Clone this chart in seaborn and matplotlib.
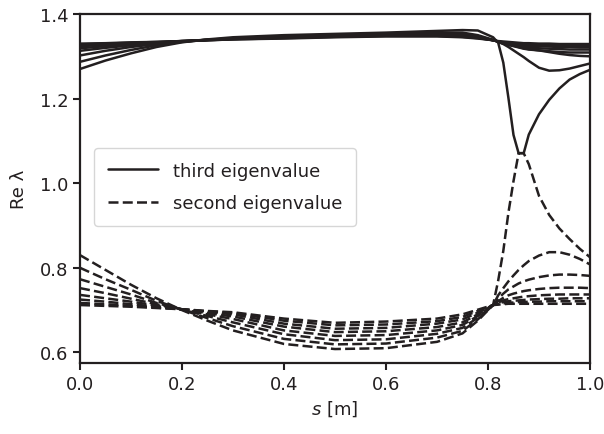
import numpy as np
import pandas as pd
import matplotlib
matplotlib.use("Agg")
import matplotlib.pyplot as plt
import seaborn as sns
from matplotlib.lines import Line2D

# ---- data ----
s = [0, .05, .1, .15, .2, .25, .3, .4, .5, .6, .7, .75, .78, .81,
     .82, .83, .84, .85, .86, .87, .88, .9, .92, .94, .96, .98, 1.0]

third_0 = [1.330, 1.331, 1.333, 1.334, 1.336, 1.338, 1.340, 1.342, 1.345, 1.347, 1.347, 1.345, 1.342, 1.338,
           1.336, 1.335, 1.334, 1.333, 1.332, 1.331, 1.331, 1.330, 1.330, 1.329, 1.329, 1.329, 1.329]
third_1 = [1.328, 1.330, 1.332, 1.334, 1.336, 1.338, 1.340, 1.343, 1.346, 1.348, 1.348, 1.346, 1.343, 1.338,
           1.335, 1.333, 1.332, 1.331, 1.330, 1.329, 1.328, 1.327, 1.326, 1.326, 1.325, 1.325, 1.325]
third_2 = [1.324, 1.327, 1.330, 1.333, 1.336, 1.338, 1.341, 1.344, 1.347, 1.349, 1.349, 1.348, 1.344, 1.338,
           1.335, 1.332, 1.330, 1.329, 1.327, 1.326, 1.325, 1.324, 1.323, 1.322, 1.322, 1.321, 1.321]
third_3 = [1.319, 1.324, 1.329, 1.332, 1.336, 1.339, 1.341, 1.345, 1.348, 1.350, 1.351, 1.349, 1.345, 1.338,
           1.335, 1.331, 1.329, 1.327, 1.325, 1.323, 1.321, 1.319, 1.318, 1.317, 1.316, 1.316, 1.316]
third_4 = [1.313, 1.320, 1.326, 1.331, 1.335, 1.339, 1.342, 1.346, 1.349, 1.351, 1.352, 1.351, 1.346, 1.338,
           1.335, 1.330, 1.327, 1.325, 1.322, 1.319, 1.317, 1.314, 1.312, 1.310, 1.309, 1.309, 1.309]
third_5 = [1.302, 1.313, 1.322, 1.329, 1.335, 1.339, 1.342, 1.347, 1.350, 1.352, 1.354, 1.353, 1.348, 1.338,
           1.335, 1.330, 1.327, 1.324, 1.321, 1.318, 1.316, 1.314, 1.310, 1.306, 1.303, 1.301, 1.300]
third_6 = [1.287, 1.302, 1.315, 1.326, 1.334, 1.339, 1.343, 1.348, 1.351, 1.353, 1.356, 1.356, 1.350, 1.339,
           1.334, 1.329, 1.322, 1.314, 1.306, 1.298, 1.289, 1.273, 1.266, 1.267, 1.271, 1.277, 1.283]
third_7 = [1.270, 1.290, 1.307, 1.322, 1.333, 1.340, 1.345, 1.350, 1.353, 1.356, 1.360, 1.362, 1.361, 1.345,
           1.332, 1.285, 1.202, 1.114, 1.071, 1.071, 1.115, 1.163, 1.197, 1.224, 1.245, 1.258, 1.268]

second_0 = [.712, .710, .708, .705, .702, .698, .695, .680, .670, .673, .680, .690, .701, .712,
            .713, .714, .715, .715, .715, .715, .715, .715, .715, .715, .715, .715, .715]
second_1 = [.717, .714, .710, .706, .702, .697, .693, .675, .664, .666, .674, .684, .698, .712,
            .714, .716, .717, .718, .719, .719, .720, .720, .721, .721, .721, .721, .721]
second_2 = [.725, .720, .714, .708, .702, .696, .690, .668, .656, .658, .668, .678, .694, .712,
            .716, .719, .721, .722, .723, .724, .725, .726, .727, .727, .728, .728, .728]
second_3 = [.736, .728, .720, .711, .702, .693, .685, .661, .648, .650, .660, .671, .690, .712,
            .718, .723, .726, .728, .730, .732, .733, .735, .736, .737, .737, .737, .737]
second_4 = [.752, .740, .727, .714, .702, .690, .679, .652, .639, .641, .652, .665, .686, .712,
            .721, .729, .735, .739, .742, .745, .747, .750, .752, .753, .753, .753, .752]
second_5 = [.773, .755, .737, .717, .701, .686, .671, .643, .629, .631, .644, .658, .682, .712,
            .727, .739, .749, .756, .763, .768, .772, .778, .782, .784, .784, .783, .781]
second_6 = [.800, .773, .748, .722, .701, .681, .662, .632, .619, .621, .635, .651, .678, .712,
            .735, .752, .768, .782, .795, .806, .816, .829, .837, .837, .831, .821, .808]
second_7 = [.830, .795, .760, .728, .700, .675, .652, .620, .608, .610, .625, .645, .675, .712,
            .770, .840, .930, 1.005, 1.071, 1.071, 1.045, .970, .925, .893, .868, .845, .825]

third = [third_0, third_1, third_2, third_3, third_4, third_5, third_6, third_7]
second = [second_0, second_1, second_2, second_3, second_4, second_5, second_6, second_7]

xticks = [0.0, 0.2, 0.4, 0.6, 0.8, 1.0]
yticks = [0.6, 0.8, 1.0, 1.2, 1.4]
legend_labels = ["third eigenvalue", "second eigenvalue"]

# ---- style ----
sns.set_theme(style="ticks")
plt.rcParams["font.family"] = ["DejaVu Sans"]
plt.rcParams["mathtext.fontset"] = "dejavusans"
ink = "#231f20"
dash = (0, (4.0, 1.7))

fig = plt.figure(figsize=(6.04, 4.35), dpi=100)
ax = fig.add_axes([80 / 604, 1 - 364 / 435, 510 / 604, 349 / 435])

rows = []
for k, vals in enumerate(third):
    for x, y in zip(s, vals):
        rows.append({"s": x, "val": y, "curve": f"t{k}", "kind": "third"})
for k, vals in enumerate(second):
    for x, y in zip(s, vals):
        rows.append({"s": x, "val": y, "curve": f"s{k}", "kind": "second"})
df = pd.DataFrame(rows)

for k in range(len(third)):
    sub = df[df["curve"] == f"t{k}"]
    sns.lineplot(data=sub, x="s", y="val", ax=ax, color=ink, lw=1.8,
                 linestyle="-", estimator=None, sort=False, legend=False)
for k in range(len(second)):
    sub = df[df["curve"] == f"s{k}"]
    sns.lineplot(data=sub, x="s", y="val", ax=ax, color=ink, lw=1.8,
                 linestyle=dash, estimator=None, sort=False, legend=False)

ax.set_xlim(0, 1)
ax.set_ylim(0.575, 1.4)
ax.set_xticks(xticks)
ax.set_xticklabels([f"{t:.1f}" for t in xticks])
ax.set_yticks(yticks)
ax.set_yticklabels([f"{t:.1f}" for t in yticks])
ax.set_xlabel(r"$s$ [m]", fontsize=13, color=ink)
ax.set_ylabel("Re λ", fontsize=13, color=ink, labelpad=8)
ax.tick_params(axis="both", labelsize=13, colors=ink, length=5, width=1.5,
               direction="out")
for sp in ax.spines.values():
    sp.set_linewidth(1.6)
    sp.set_color(ink)

handles = [Line2D([0], [0], color=ink, lw=1.8, linestyle="-"),
           Line2D([0], [0], color=ink, lw=1.8, linestyle=dash)]
leg = ax.legend(handles, legend_labels, loc="center left",
                bbox_to_anchor=(0.028, 0.505), borderaxespad=0, fontsize=13,
                frameon=True, fancybox=True, handlelength=2.8,
                labelspacing=0.8, borderpad=0.75, labelcolor=ink)
leg.get_frame().set_edgecolor("#cccccc")

fig.savefig("out.png", dpi=100)
